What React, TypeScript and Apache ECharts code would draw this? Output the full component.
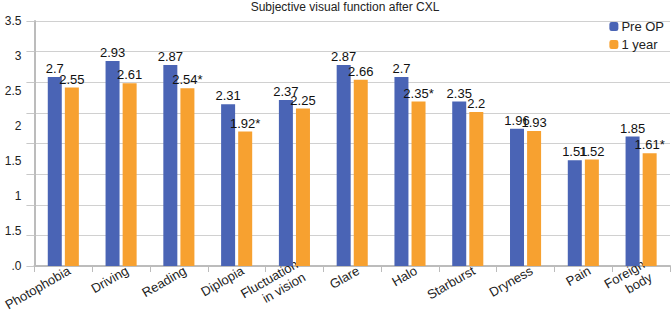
import React, { useEffect, useRef } from "react";
import * as echarts from "echarts";

const categories = [
  "Photophobia",
  "Driving",
  "Reading",
  "Diplopia",
  "Fluctuation\nin vision",
  "Glare",
  "Halo",
  "Starburst",
  "Dryness",
  "Pain",
  "Foreign\nbody",
];
const preOp = [2.7, 2.93, 2.87, 2.31, 2.37, 2.87, 2.7, 2.35, 1.96, 1.51, 1.85];
const oneYear = [2.55, 2.61, 2.54, 1.92, 2.25, 2.66, 2.35, 2.2, 1.93, 1.52, 1.61];
const preOpLabels = ["2.7", "2.93", "2.87", "2.31", "2.37", "2.87", "2.7", "2.35", "1.96", "1.51", "1.85"];
const oneYearLabels = ["2.55", "2.61", "2.54*", "1.92*", "2.25", "2.66", "2.35*", "2.2", "1.93", "1.52", "1.61*"];
// tick labels as printed, from 0 upward in steps of 0.5
const yTickLabels = [".0", "1.5", "1", "1.5", "2", "2.5", "3", "3.5"];
// the printed gridlines split the value range into 8 equal bands
const gridBands = 8;

const FONT = "'Liberation Sans', Arial, sans-serif";

export default function App() {
  const ref = useRef<HTMLDivElement>(null);
  useEffect(() => {
    document.body.style.margin = "0";
    if (!ref.current) return;
    const chart = echarts.init(ref.current, undefined, { renderer: "svg" });
    chart.setOption({
      animation: false,
      textStyle: { fontFamily: FONT },
      title: {
        text: "Subjective visual function after CXL",
        left: 345,
        textAlign: "center",
        top: 1,
        padding: 0,
        textStyle: { fontSize: 12, fontWeight: "normal", color: "#222", fontFamily: FONT },
      },
      legend: {
        orient: "vertical",
        right: 8,
        top: 20,
        padding: 0,
        itemWidth: 9,
        itemHeight: 9,
        itemGap: 5,
        textStyle: { fontSize: 13, color: "#222", fontFamily: FONT, padding: [0, 0, 0, -2] },
        data: ["Pre OP", "1 year"],
      },
      grid: { left: 30, right: 2, top: 21, bottom: 64, containLabel: false },
      xAxis: {
        type: "category",
        data: categories,
        axisLine: { lineStyle: { color: "#bcbcbc", width: 2 } },
        axisTick: { show: true, length: 6, lineStyle: { color: "#bcbcbc", width: 1 } },
        axisLabel: {
          interval: 0,
          rotate: 30,
          fontSize: 13,
          color: "#222",
          fontFamily: FONT,
          margin: 7,
          lineHeight: 15,
          align: "right",
          padding: [0, -7, 0, 0],
        },
      },
      yAxis: [
        {
          type: "value",
          min: 0,
          max: gridBands,
          interval: 1,
          position: "left",
          axisLine: { show: true, lineStyle: { color: "#bcbcbc", width: 2 } },
          axisTick: { show: true, length: 8, lineStyle: { color: "#c8c8c8" } },
          axisLabel: { show: false },
          splitLine: { show: true, lineStyle: { color: "#d0d0d0", width: 1 } },
        },
        {
          type: "value",
          min: 0,
          max: 3.5,
          interval: 0.5,
          position: "left",
          axisLine: { show: false },
          axisTick: { show: false },
          splitLine: { show: false },
          axisLabel: {
            show: true,
            margin: 13,
            fontSize: 12,
            color: "#222",
            fontFamily: FONT,
            formatter: (v: number) => yTickLabels[Math.round(v / 0.5)] ?? "",
          },
        },
      ],
      series: [
        {
          name: "Pre OP",
          type: "bar",
          yAxisIndex: 1,
          data: preOp,
          barWidth: 14,
          barGap: "22%",
          itemStyle: { color: "#4a64b5" },
          label: {
            show: true,
            position: "top",
            distance: 2,
            fontSize: 13,
            color: "#111",
            fontFamily: FONT,
            formatter: (p: any) => preOpLabels[p.dataIndex],
          },
        },
        {
          name: "1 year",
          type: "bar",
          yAxisIndex: 1,
          data: oneYear,
          barWidth: 14,
          itemStyle: { color: "#f7a130" },
          label: {
            show: true,
            position: "top",
            distance: 2,
            fontSize: 13,
            color: "#111",
            fontFamily: FONT,
            formatter: (p: any) => oneYearLabels[p.dataIndex],
          },
        },
      ],
    });
    return () => chart.dispose();
  }, []);
  return <div ref={ref} style={{ width: 672, height: 330 }} />;
}
